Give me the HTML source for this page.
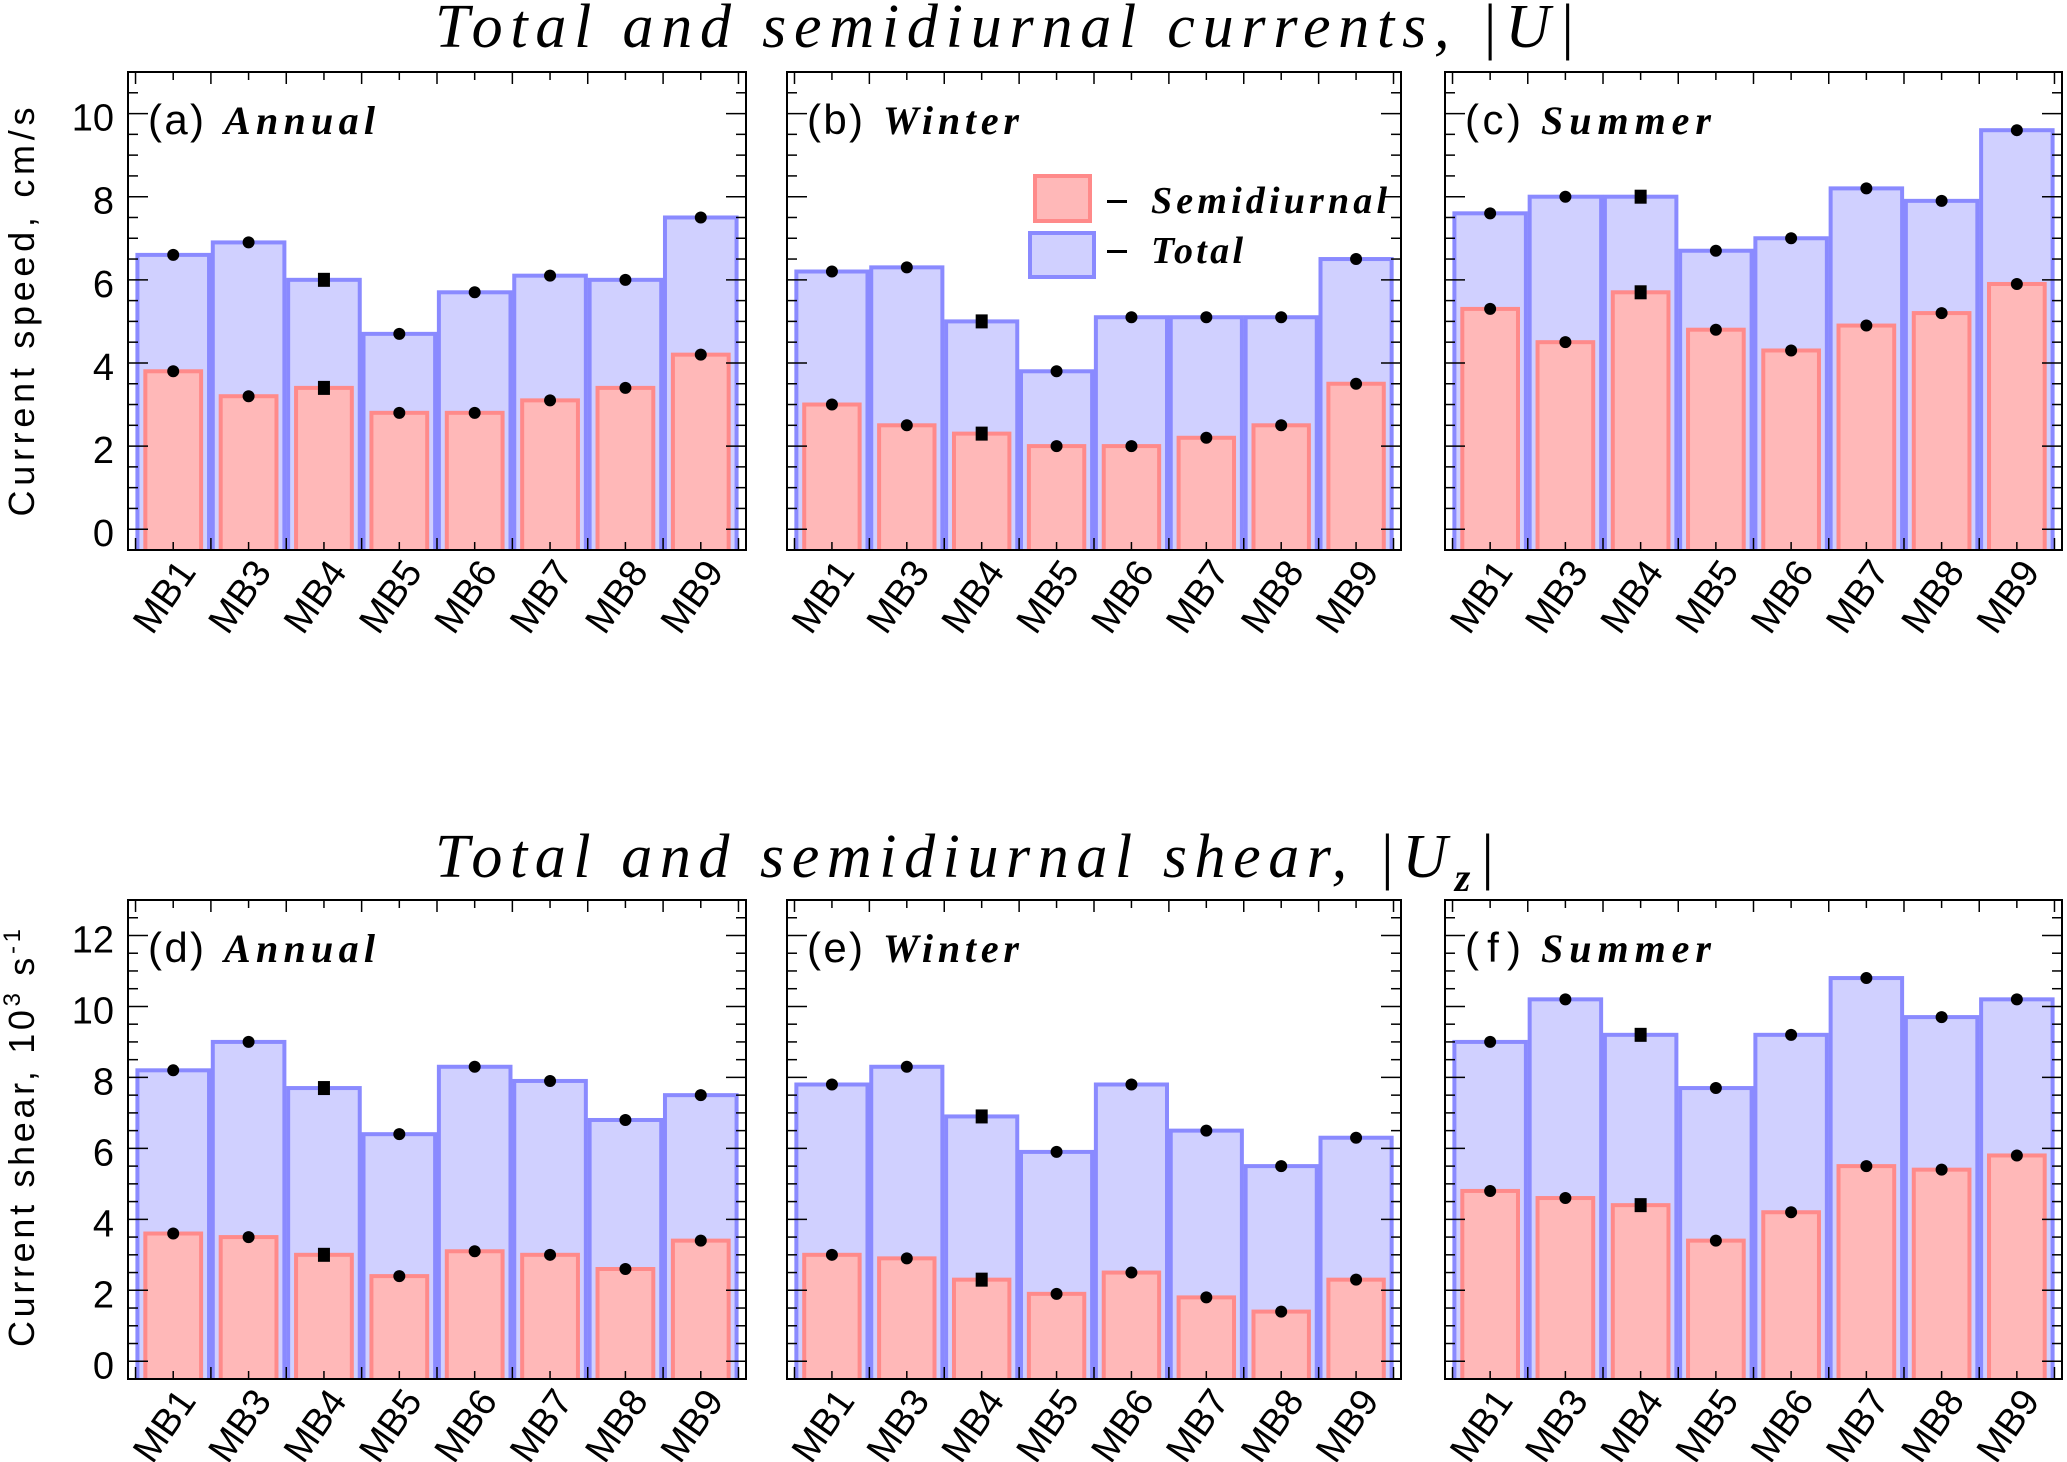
<!DOCTYPE html>
<html><head><meta charset="utf-8"><style>
html,body{margin:0;padding:0;background:#fff;}
svg{display:block;}
</style></head><body>
<svg id="fig" width="2067" height="1462" viewBox="0 0 2067 1462" xmlns="http://www.w3.org/2000/svg">
<text x="435" y="47" font-family="Liberation Serif, serif" font-style="italic" font-size="62" textLength="1140" lengthAdjust="spacing">Total and semidiurnal currents, |U|</text>
<text x="435" y="877" font-family="Liberation Serif, serif" font-style="italic" font-size="62" textLength="1060" lengthAdjust="spacing">Total and semidiurnal shear, |U<tspan font-size="40" dy="14" font-weight="bold">z</tspan><tspan dy="-14">|</tspan></text>
<text transform="translate(34,312) rotate(-90)" text-anchor="middle" font-family="Liberation Sans, sans-serif" font-size="36" textLength="409" lengthAdjust="spacing">Current speed, cm/s</text>
<text transform="translate(34,1138) rotate(-90)" text-anchor="middle" font-family="Liberation Sans, sans-serif" font-size="36" textLength="418" lengthAdjust="spacing">Current shear, 10<tspan font-size="24" dy="-14">3</tspan><tspan dy="14"> s</tspan><tspan font-size="24" dy="-14">-1</tspan></text>
<g id="panels"></g>
</svg>
<script>
const categories = ["MB1","MB3","MB4","MB5","MB6","MB7","MB8","MB9"];
const annualSpeedTotal = [6.6,6.9,6.0,4.7,5.7,6.1,6.0,7.5];
const annualSpeedSemi = [3.8,3.2,3.4,2.8,2.8,3.1,3.4,4.2];
const winterSpeedTotal = [6.2,6.3,5.0,3.8,5.1,5.1,5.1,6.5];
const winterSpeedSemi = [3.0,2.5,2.3,2.0,2.0,2.2,2.5,3.5];
const summerSpeedTotal = [7.6,8.0,8.0,6.7,7.0,8.2,7.9,9.6];
const summerSpeedSemi = [5.3,4.5,5.7,4.8,4.3,4.9,5.2,5.9];
const annualShearTotal = [8.2,9.0,7.7,6.4,8.3,7.9,6.8,7.5];
const annualShearSemi = [3.6,3.5,3.0,2.4,3.1,3.0,2.6,3.4];
const winterShearTotal = [7.8,8.3,6.9,5.9,7.8,6.5,5.5,6.3];
const winterShearSemi = [3.0,2.9,2.3,1.9,2.5,1.8,1.4,2.3];
const summerShearTotal = [9.0,10.2,9.2,7.7,9.2,10.8,9.7,10.2];
const summerShearSemi = [4.8,4.6,4.4,3.4,4.2,5.5,5.4,5.8];
const speedTicks = [0,2,4,6,8,10];
const shearTicks = [0,2,4,6,8,10,12];
const panelLetters = ["a","b","c","d","e","f"];
const panelSeasons = ["Annual","Winter","Summer","Annual","Winter","Summer"];

const NS="http://www.w3.org/2000/svg";
const root=document.getElementById('panels');
function mk(tag,attrs,parent){const e=document.createElementNS(NS,tag);for(const k in attrs)e.setAttribute(k,attrs[k]);(parent||root).appendChild(e);return e;}

const cols=[[128,746],[787,1401],[1445,2062]];
const rows=[{top:72,bot:550,ymin:-0.5,ymax:11,ticks:speedTicks},{top:900,bot:1379,ymin:-0.5,ymax:13,ticks:shearTicks}];
const data=[[annualSpeedTotal,annualSpeedSemi],[winterSpeedTotal,winterSpeedSemi],[summerSpeedTotal,summerSpeedSemi],
[annualShearTotal,annualShearSemi],[winterShearTotal,winterShearSemi],[summerShearTotal,summerShearSemi]];
const seasonLen={Annual:151,Winter:136,Summer:170};

for(let p=0;p<6;p++){
  const r=rows[Math.floor(p/3)], c=cols[p%3];
  const L=c[0],R=c[1],T=r.top,B=r.bot;
  const xs=v=>L+(v+0.6)/8.2*(R-L);
  const ys=v=>B-(v-r.ymin)/(r.ymax-r.ymin)*(B-T);
  const g=mk('g',{});
  
  
  const [tot,semi]=data[p];
  const step=xs(1)-xs(0);
  for(let i=0;i<categories.length;i++){
    const cx=xs(i);
    const w=step*0.95;
    const b=mk('rect',{x:cx-w/2,y:ys(tot[i]),width:w,height:ys(r.ymin)-ys(tot[i])+10,fill:'#d0d0ff',stroke:'#8a8aff','stroke-width':4},g);
    
    
  }
  for(let i=0;i<categories.length;i++){
    const cx=xs(i);
    const w=step*0.74;
    const b=mk('rect',{x:cx-w/2,y:ys(semi[i]),width:w,height:ys(r.ymin)-ys(semi[i])+10,fill:'#ffb8b8',stroke:'#ff8a8a','stroke-width':4},g);
    
    
  }
  mk('rect',{x:L-5,y:B+1,width:R-L+10,height:40,fill:'#fff'},g);
  for(let i=0;i<categories.length;i++){
    const cx=xs(i);
    for(const v of [tot[i],semi[i]]){
      let m;
      if(i===2) m=mk('rect',{x:cx-6,y:ys(v)-7,width:12,height:14,fill:'#000'},g);
      else m=mk('circle',{cx:cx,cy:ys(v),r:6,fill:'#000'},g);
      
      
    }
  }
  const f=mk('rect',{x:L,y:T,width:R-L,height:B-T,fill:'none',stroke:'#000','stroke-width':2},g);
  
  
  for(let v=0;v<=r.ymax;v+=0.5){
    const y=ys(v); const major=(Math.abs(v%2)<1e-6); const len=major?20:10;
    mk('line',{x1:L,x2:L+len,y1:y,y2:y,stroke:'#000','stroke-width':1.5},g);
    mk('line',{x1:R,x2:R-len,y1:y,y2:y,stroke:'#000','stroke-width':1.5},g);
  }
  for(let k=-0.5;k<=7.5;k+=0.5){
    const x=xs(k); const len=(Math.abs(k%1)>0.1)?12:8;
    mk('line',{x1:x,x2:x,y1:B,y2:B-len,stroke:'#000','stroke-width':1.5},g);
    mk('line',{x1:x,x2:x,y1:T,y2:T+len,stroke:'#000','stroke-width':1.5},g);
  }
  if(p%3===0){
    for(const t of r.ticks){
      const tl=mk('text',{x:L-14,y:ys(t)+17,'text-anchor':'end','font-family':'Liberation Sans, sans-serif','font-size':38},g);
      tl.textContent=t;
      
      
    }
  }
  for(let i=0;i<categories.length;i++){
    const cx=xs(i);
    const xl=mk('text',{transform:`translate(${cx+24},${B+22}) rotate(-55)`,'text-anchor':'end','font-family':'Liberation Sans, sans-serif','font-size':38},g);
    xl.textContent=categories[i];
    
    
  }
  const lbl=mk('text',{x:L+20,y:T+62,'font-family':'Liberation Sans, sans-serif','font-size':42,'textLength':56,'lengthAdjust':'spacing'},g);
  lbl.textContent='('+panelLetters[p]+')';
  
  
  const sl=mk('text',{x:L+96,y:T+62,'font-family':'Liberation Serif, serif','font-style':'italic','font-weight':'bold','font-size':40,'textLength':seasonLen[panelSeasons[p]],'lengthAdjust':'spacing'},g);
  sl.textContent=panelSeasons[p];
  
  
}
const lg=mk('g',{});


const lr=mk('rect',{x:1035,y:176,width:55,height:45,fill:'#ffb8b8',stroke:'#ff8a8a','stroke-width':4},lg);


const lb=mk('rect',{x:1030,y:233,width:64,height:44,fill:'#d0d0ff',stroke:'#8a8aff','stroke-width':4},lg);


for(const [y,txt,len,nm] of [[213,'Semidiurnal',236,'semidiurnal'],[263,'Total',92,'total']]){
  const d=mk('rect',{x:1107,y:y-13,width:20,height:3,fill:'#000'},lg);
  
  
  const t=mk('text',{x:1151,y:y,'font-family':'Liberation Serif, serif','font-style':'italic','font-weight':'bold','font-size':38,'textLength':len,'lengthAdjust':'spacing'},lg);
  t.textContent=txt;
  
  
}
</script>
</body></html>
